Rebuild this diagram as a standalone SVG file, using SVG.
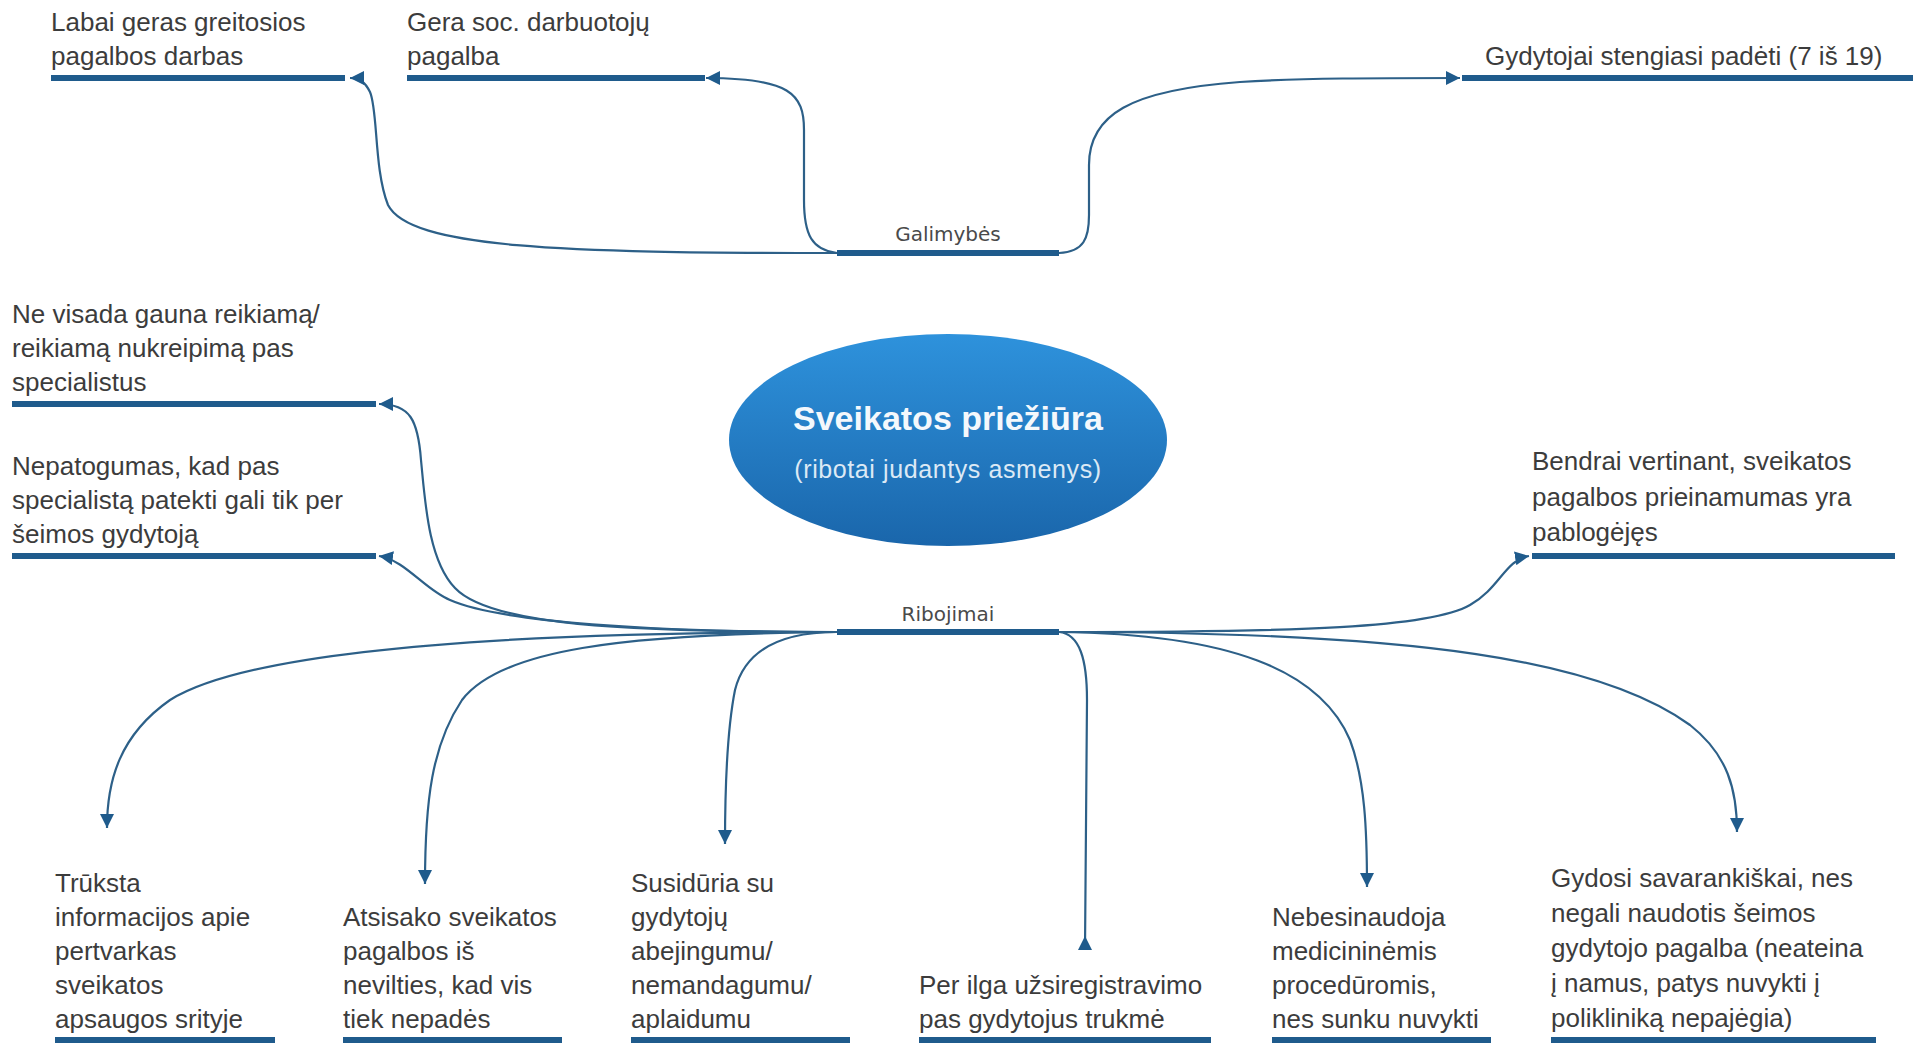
<svg xmlns="http://www.w3.org/2000/svg" width="1913" height="1043" viewBox="0 0 1913 1043">
<style>
.t{font-family:"Liberation Sans",Arial,sans-serif;font-size:26px;fill:#3c3c3c}
.hl{font-family:"DejaVu Sans",sans-serif;font-size:20px;fill:#4a4a4a;text-anchor:middle}
.ul{stroke:#1f5b8c;stroke-width:6;fill:none}
.c{stroke:#2d6088;stroke-width:2.2;fill:none;marker-end:url(#arr)}
</style>
<defs>
<marker id="arr" markerUnits="userSpaceOnUse" markerWidth="15" markerHeight="14" refX="14" refY="7" orient="auto">
<path d="M0,0 L14,7 L0,14 z" fill="#1f5b8c"/>
</marker>
<marker id="arrUp" markerUnits="userSpaceOnUse" markerWidth="15" markerHeight="15" refX="7" refY="14" orient="0">
<path d="M0,14 L7,0 L14,14 z" fill="#1f5b8c"/>
</marker>
<linearGradient id="eg" x1="0" y1="0" x2="0" y2="1">
<stop offset="0" stop-color="#2e92dc"/>
<stop offset="1" stop-color="#1a66ab"/>
</linearGradient>
</defs>
<rect width="1913" height="1043" fill="#ffffff"/>

<g id="connectors">
<path class="c" d="M 837 253 C 560 253, 410 248, 388 205 C 374 170, 378 110, 370 92 C 365 82, 360 78, 350 78"/>
<path class="c" d="M 837 253 C 812 250, 804 235, 804 200 L 804 130 C 804 94, 790 78, 706 78"/>
<path class="c" d="M 1059 253 C 1084 252, 1089 238, 1089 215 L 1089 165 C 1089 115, 1130 90, 1240 82 C 1300 78, 1380 78, 1460 78"/>
<path class="c" d="M 837 632 C 620 632, 490 625, 455 588 C 428 560, 425 500, 421 460 C 418 420, 410 404, 379 404"/>
<path class="c" d="M 837 632 C 650 632, 500 622, 450 600 C 425 590, 405 560, 379 556"/>
<path class="c" d="M 837 632 C 500 632, 250 650, 170 700 C 120 735, 107 780, 107 828"/>
<path class="c" d="M 837 632 C 620 634, 500 650, 462 700 C 432 745, 425 800, 425 884"/>
<path class="c" d="M 837 632 C 780 632, 745 650, 735 690 C 727 730, 725 790, 725 844"/>
<path d="M 1059 632 C 1080 634, 1087 660, 1087 700 L 1085 950" stroke="#2d6088" stroke-width="2.2" fill="none" marker-end="url(#arrUp)"/>
<path class="c" d="M 1059 632 C 1230 634, 1320 670, 1350 740 C 1365 780, 1367 830, 1367 887"/>
<path class="c" d="M 1059 632 C 1420 632, 1600 660, 1690 725 C 1728 755, 1737 790, 1737 832"/>
<path class="c" d="M 1059 632 C 1300 632, 1430 628, 1470 605 C 1500 588, 1505 560, 1529 556"/>
</g>

<g id="center">
<ellipse cx="948" cy="440" rx="219" ry="106" fill="url(#eg)"/>
<text x="948" y="430" text-anchor="middle" font-family="Liberation Sans, Arial, sans-serif" font-size="34" font-weight="bold" fill="#f4f8fc">Sveikatos priežiūra</text>
<text x="948" y="478" text-anchor="middle" font-family="Liberation Sans, Arial, sans-serif" font-size="25" fill="#dce9f5" letter-spacing="0.6">(ribotai judantys asmenys)</text>
</g>

<g id="hub-galimybes">
<line class="ul" x1="837" y1="253" x2="1059" y2="253"/>
<text class="hl" x="948" y="241">Galimybės</text>
</g>
<g id="hub-ribojimai">
<line class="ul" x1="837" y1="632" x2="1059" y2="632"/>
<text class="hl" x="948" y="621">Ribojimai</text>
</g>

<g id="node-greitoji">
<text class="t" x="51" y="31">Labai geras greitosios</text>
<text class="t" x="51" y="65">pagalbos darbas</text>
<line class="ul" x1="51" y1="78" x2="345" y2="78"/>
</g>
<g id="node-soc">
<text class="t" x="407" y="31">Gera soc. darbuotojų</text>
<text class="t" x="407" y="65">pagalba</text>
<line class="ul" x1="407" y1="78" x2="705" y2="78"/>
</g>
<g id="node-gydytojai">
<text class="t" x="1485" y="65">Gydytojai stengiasi padėti (7 iš 19)</text>
<line class="ul" x1="1462" y1="78" x2="1913" y2="78"/>
</g>

<g id="node-nukreipimas">
<text class="t" x="12" y="323">Ne visada gauna reikiamą/</text>
<text class="t" x="12" y="357">reikiamą nukreipimą pas</text>
<text class="t" x="12" y="391">specialistus</text>
<line class="ul" x1="12" y1="404" x2="376" y2="404"/>
</g>
<g id="node-nepatogumas">
<text class="t" x="12" y="475">Nepatogumas, kad pas</text>
<text class="t" x="12" y="509">specialistą patekti gali tik per</text>
<text class="t" x="12" y="543">šeimos gydytoją</text>
<line class="ul" x1="12" y1="556" x2="376" y2="556"/>
</g>
<g id="node-bendrai">
<text class="t" x="1532" y="470">Bendrai vertinant, sveikatos</text>
<text class="t" x="1532" y="506">pagalbos prieinamumas yra</text>
<text class="t" x="1532" y="541">pablogėjęs</text>
<line class="ul" x1="1532" y1="556" x2="1895" y2="556"/>
</g>

<g id="node-informacija">
<text class="t" x="55" y="892">Trūksta</text>
<text class="t" x="55" y="926">informacijos apie</text>
<text class="t" x="55" y="960">pertvarkas</text>
<text class="t" x="55" y="994">sveikatos</text>
<text class="t" x="55" y="1028">apsaugos srityje</text>
<line class="ul" x1="55" y1="1040" x2="275" y2="1040"/>
</g>
<g id="node-atsisako">
<text class="t" x="343" y="926">Atsisako sveikatos</text>
<text class="t" x="343" y="960">pagalbos iš</text>
<text class="t" x="343" y="994">nevilties, kad vis</text>
<text class="t" x="343" y="1028">tiek nepadės</text>
<line class="ul" x1="343" y1="1040" x2="562" y2="1040"/>
</g>
<g id="node-susiduria">
<text class="t" x="631" y="892">Susidūria su</text>
<text class="t" x="631" y="926">gydytojų</text>
<text class="t" x="631" y="960">abejingumu/</text>
<text class="t" x="631" y="994">nemandagumu/</text>
<text class="t" x="631" y="1028">aplaidumu</text>
<line class="ul" x1="631" y1="1040" x2="850" y2="1040"/>
</g>
<g id="node-registracija">
<text class="t" x="919" y="994">Per ilga užsiregistravimo</text>
<text class="t" x="919" y="1028">pas gydytojus trukmė</text>
<line class="ul" x1="919" y1="1040" x2="1211" y2="1040"/>
</g>
<g id="node-proceduros">
<text class="t" x="1272" y="926">Nebesinaudoja</text>
<text class="t" x="1272" y="960">medicininėmis</text>
<text class="t" x="1272" y="994">procedūromis,</text>
<text class="t" x="1272" y="1028">nes sunku nuvykti</text>
<line class="ul" x1="1272" y1="1040" x2="1491" y2="1040"/>
</g>
<g id="node-gydosi">
<text class="t" x="1551" y="887">Gydosi savarankiškai, nes</text>
<text class="t" x="1551" y="922">negali naudotis šeimos</text>
<text class="t" x="1551" y="957">gydytojo pagalba (neateina</text>
<text class="t" x="1551" y="992">į namus, patys nuvykti į</text>
<text class="t" x="1551" y="1027">polikliniką nepajėgia)</text>
<line class="ul" x1="1551" y1="1040" x2="1876" y2="1040"/>
</g>
</svg>
